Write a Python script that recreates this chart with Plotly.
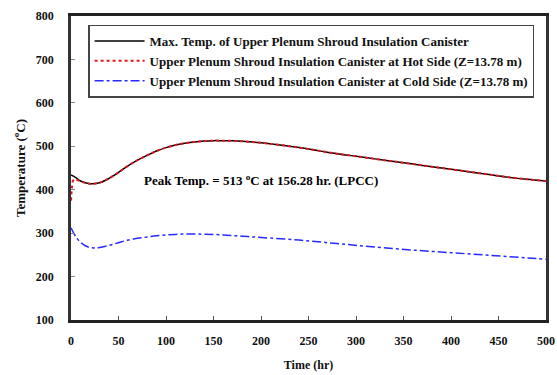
import plotly.graph_objects as go

# Maximum canister temperature (hr, degC)
t_max = [0, 5, 10, 20, 30, 40, 50, 60, 70, 80, 90, 100, 110, 120, 130, 140, 150,
         156.28, 170, 180, 200, 220, 240, 260, 280, 300, 320, 340, 360, 380, 400,
         420, 440, 460, 480, 500]
T_max = [434, 428, 420, 414, 416, 426, 440, 455, 468, 479, 489, 497, 503, 507, 510,
         512, 513, 513, 512.5, 511.5, 508, 503, 497, 490, 483, 477, 471, 465, 459,
         453, 447, 441, 435, 429, 424, 420]

# Hot side at Z=13.78 m
t_hot = [0, 1, 2, 4, 6, 10, 20, 30, 40, 50, 60, 70, 80, 90, 100, 110, 120, 130,
         140, 150, 156.28, 170, 180, 200, 220, 240, 260, 280, 300, 320, 340, 360,
         380, 400, 420, 440, 460, 480, 500]
T_hot = [375, 405, 420, 424, 423, 419, 414, 416, 426, 440, 455, 468, 479, 489, 497,
         503, 507, 510, 512, 513, 513, 512.5, 511.5, 508, 503, 497, 490, 483, 477,
         471, 465, 459, 453, 447, 441, 435, 429, 424, 420]

# Cold side at Z=13.78 m
t_cold = [0, 5, 10, 15, 20, 25, 30, 40, 50, 60, 70, 80, 90, 100, 110, 120, 130, 140,
          160, 180, 200, 240, 280, 320, 360, 400, 440, 480, 500]
T_cold = [312, 292, 279, 271, 267, 266, 267, 272, 278, 284, 288, 291, 294, 296, 297,
          298, 298, 297.5, 296, 293, 290, 284, 276, 268, 261, 255, 249, 243, 240]

names = [
    "Max. Temp. of Upper Plenum Shroud Insulation Canister",
    "Upper Plenum Shroud Insulation Canister at Hot Side (Z=13.78 m)",
    "Upper Plenum Shroud Insulation Canister at Cold Side (Z=13.78 m)",
]

x_ticks = [0, 50, 100, 150, 200, 250, 300, 350, 400, 450, 500]
y_ticks = [100, 200, 300, 400, 500, 600, 700, 800]

peak_T = 513
peak_t = 156.28

FONT = "Liberation Serif"

fig = go.Figure()
fig.add_trace(go.Scatter(x=t_max, y=T_max, mode="lines", name=names[0], legendgroup="a",
                         line=dict(color="black", width=1.5, shape="spline")))
fig.add_trace(go.Scatter(x=t_hot, y=T_hot, mode="lines", name=names[1], legendgroup="b",
                         line=dict(color="#e8141c", width=2, dash="dot", shape="spline")))
fig.add_trace(go.Scatter(x=t_cold, y=T_cold, mode="lines", name=names[2], legendgroup="c",
                         line=dict(color="#2a2aff", width=1.5, dash="dashdot", shape="spline")))

fig.add_annotation(
    x=75, y=422, xref="x", yref="y", xanchor="left", yanchor="middle",
    text=f"<b>Peak Temp. = {peak_T} <sup>o</sup>C at {peak_t} hr. (LPCC)</b>",
    showarrow=False, font=dict(family=FONT, size=13, color="black"),
)

fig.update_layout(
    width=557, height=375,
    margin=dict(l=71, r=11, t=16, b=55),
    paper_bgcolor="white", plot_bgcolor="white",
    font=dict(family=FONT, size=12, color="#111"),
    showlegend=True,
    legend=dict(
        x=0.036, y=0.972, xanchor="left", yanchor="top",
        bgcolor="white", bordercolor="#444", borderwidth=1.5,
        font=dict(family=FONT, size=13, color="#111", weight="bold"),
        tracegroupgap=0, itemwidth=50,
    ),
)
fig.update_xaxes(
    range=[0, 500], tickvals=x_ticks, ticks="inside", ticklen=4, tickcolor="#555",
    showline=True, linecolor="#222", linewidth=2.5, mirror=True, showgrid=False,
    zeroline=False, tickfont=dict(family=FONT, size=12, weight="bold"),
    ticklabelstandoff=8, automargin=False,
    title=dict(text="<b>Time (hr)</b>", font=dict(family=FONT, size=12), standoff=14),
)
fig.update_yaxes(
    range=[100, 800], tickvals=y_ticks, ticks="inside", ticklen=4, tickcolor="#888",
    showline=True, linecolor="#333", linewidth=2.5, mirror=True, showgrid=False,
    zeroline=False, tickfont=dict(family=FONT, size=12, weight="bold"),
    ticklabelstandoff=12, automargin=False,
    title=dict(text="<b>Temperature (<sup>o</sup>C)</b>", font=dict(family=FONT, size=13),
               standoff=8),
)

fig.write_html("out.html")
